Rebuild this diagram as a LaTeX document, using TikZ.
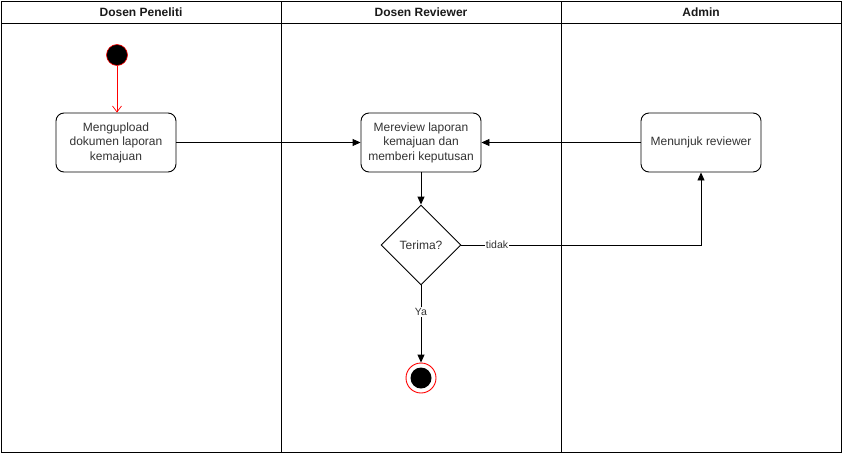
\documentclass[tikz,border=0pt]{standalone}
\usepackage{fontspec}
\setmainfont{Liberation Sans}
\usepackage{tikz}
\usetikzlibrary{arrows.meta, shapes.geometric}
\tikzset{
  lane/.style={draw=black, line width=0.9pt},
  lanehead/.style={font=\fontsize{12}{14}\selectfont\bfseries, text=black!90},
  actbox/.style={rectangle, rounded corners=8pt, draw=black, line width=0.9pt, fill=white,
                 minimum width=120pt, minimum height=59pt, align=center,
                 font=\fontsize{12}{14.5}\selectfont, text=black!80, inner sep=2pt},
  decide/.style={diamond, draw=black, line width=0.9pt, fill=white, minimum width=80pt,
                 minimum height=80pt, inner sep=0pt, font=\fontsize{12}{14}\selectfont, text=black!80},
  startdot/.style={circle, draw=red, fill=black, line width=0.6pt, minimum size=21pt, inner sep=0pt},
  enddot/.style={circle, draw=red, fill=white, line width=0.9pt, minimum size=30pt, inner sep=0pt,
                 path picture={\fill[black] (path picture bounding box.center) circle (10.5pt);}},
  flow/.style={-{Triangle[length=8pt, width=7pt]}, line width=0.9pt, draw=black},
  redflow/.style={-{Straight Barb[length=6pt, width=9pt]}, line width=0.7pt, draw=red},
  edgelbl/.style={font=\fontsize{10.5}{12}\selectfont, fill=white, inner sep=1pt, text=black!80},
}
\begin{document}
\begin{tikzpicture}[x=1pt, y=-1pt]
    \useasboundingbox (0,0) rectangle (842,453);

    % swimlanes
    \draw[lane] (1,1) rectangle (841,452);
    \draw[lane] (1,23) -- (841,23);
    \draw[lane] (281,1) -- (281,452);
    \draw[lane] (561,1) -- (561,452);
    \node[lanehead] (hPeneliti) at (141,12) {Dosen Peneliti};
    \node[lanehead] (hReviewer) at (421,12) {Dosen Reviewer};
    \node[lanehead] (hAdmin) at (701,12) {Admin};

    % activities
    \node[startdot] (start) at (117,55) {};
    \node[actbox] (upload) at (116,142.5) {Mengupload\\dokumen laporan\\kemajuan};
    \node[actbox] (review) at (421,142.5) {Mereview laporan\\kemajuan dan\\memberi keputusan};
    \node[actbox] (tunjuk) at (701,142.5) {Menunjuk reviewer};
    \node[decide] (terima) at (421,245) {Terima?};
    \node[enddot] (finish) at (421,378) {};

    % connectors
    \draw[redflow] (start) -- (start |- upload.north);
    \draw[flow] (upload) -- (review);
    \draw[flow] (tunjuk) -- (review);
    \draw[flow] (review) -- (terima);
    \draw[flow] (terima.east) -- (terima.east -| tunjuk) -- (tunjuk.south);
    \node[edgelbl] (lblTidak) at (497,245) {tidak};
    \draw[flow] (terima) -- (finish);
    \node[edgelbl] (lblYa) at (421,312) {Ya};
\end{tikzpicture}
\end{document}
